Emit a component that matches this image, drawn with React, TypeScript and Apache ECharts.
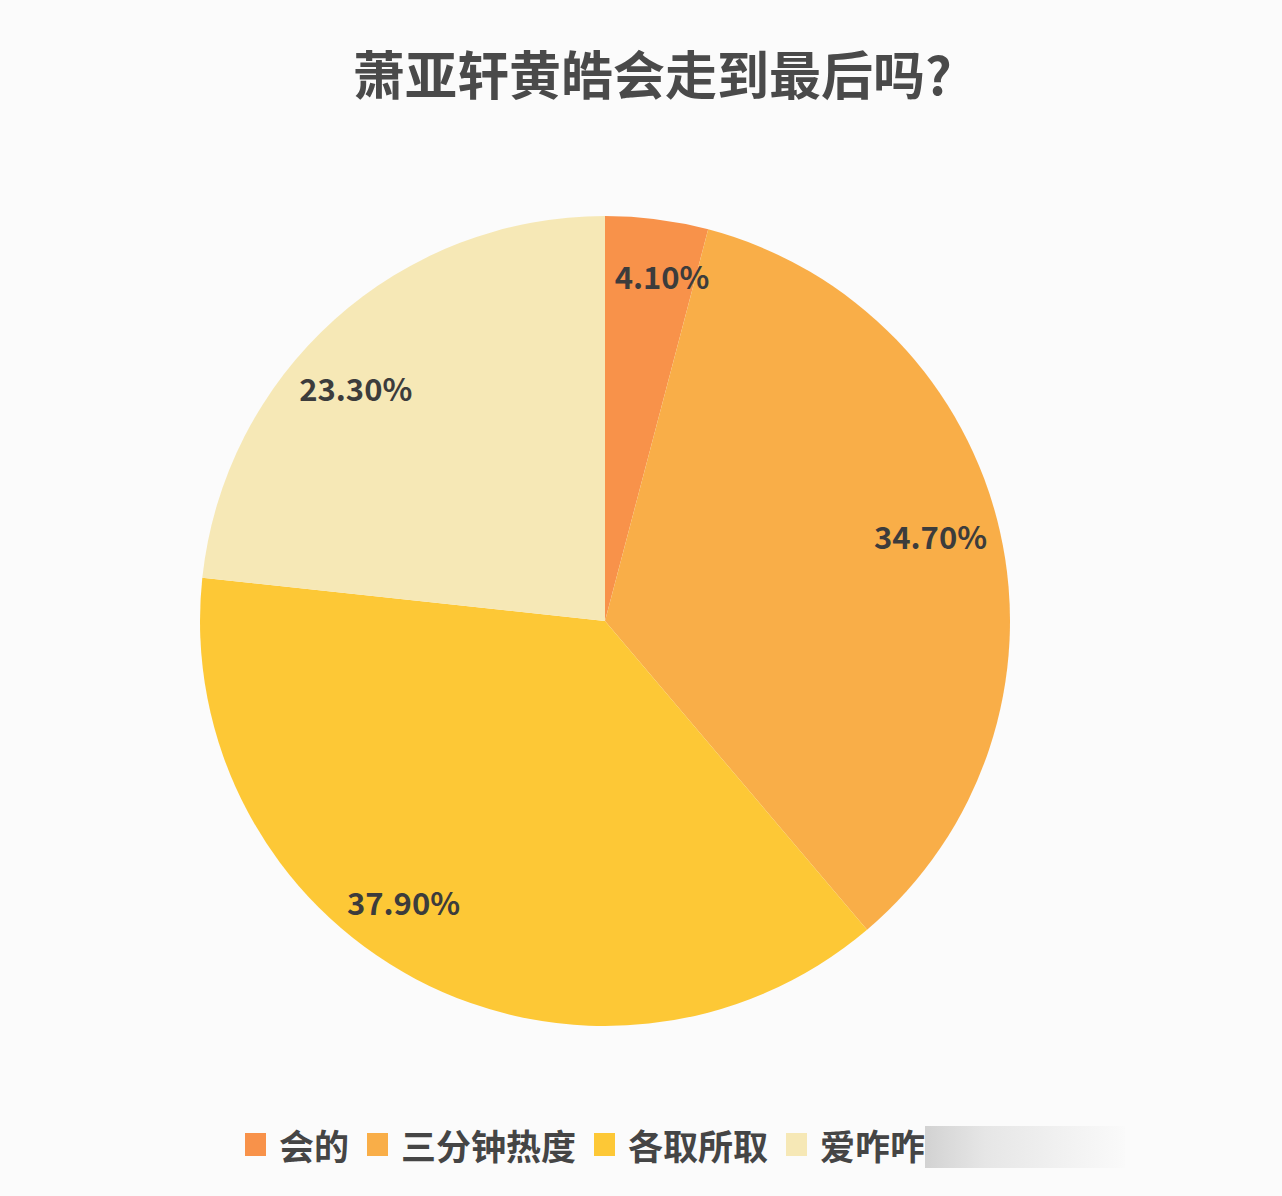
import React, { useEffect, useRef } from "react";
import * as echarts from "echarts";

const categories = ["会的", "三分钟热度", "各取所取", "爱咋咋地"];
const values = [4.1, 34.7, 37.9, 23.3];
const colors = ["#F8924A", "#F9AE48", "#FDC836", "#F6E8B6"];
const labelOffsets = [[13, -5], [-9, -10], [-41, -23], [-20, 22]];
const titleText = "萧亚轩黄皓会走到最后吗?";

export default function App() {
  const ref = useRef<HTMLDivElement>(null);
  useEffect(() => {
    if (!ref.current) return;
    const chart = echarts.init(ref.current, null, { renderer: "svg" });
    const data = categories.map((name, i) => ({
      name,
      value: values[i],
      itemStyle: { color: colors[i] },
    }));
    chart.setOption({
      animation: false,
      backgroundColor: "#FBFBFB",
      title: {
        text: titleText,
        left: 348,
        top: 41,
        textStyle: {
          fontFamily: "Noto Sans CJK SC",
          fontWeight: "bold",
          fontSize: 52,
          color: "#4A4A4A",
        },
      },
      legend: {
        bottom: 29,
        left: 240,
        itemWidth: 21,
        itemHeight: 23,
        itemGap: 18,
        icon: "rect",
        selectedMode: false,
        textStyle: {
          fontFamily: "Noto Sans CJK SC",
          fontWeight: "bold",
          fontSize: 35,
          color: "#454545",
          padding: [0, 0, 0, 8],
        },
        data: categories,
      },
      graphic: [
        {
          type: "rect",
          left: 925,
          top: 1126,
          shape: { width: 200, height: 42 },
          style: {
            fill: new echarts.graphic.LinearGradient(0, 0, 1, 0, [
              { offset: 0, color: "#D2D2D2" },
              { offset: 0.3, color: "#E6E6E6" },
              { offset: 1, color: "#FAFAFA" },
            ]),
          },
          z: 100,
        },
      ],
      series: [
        {
          type: "pie",
          center: [605, 621],
          radius: [0, 405],
          startAngle: 90,
          clockwise: true,
          label: { show: false },
          labelLine: { show: false },
          emphasis: { disabled: true },
          data,
        },
        {
          type: "pie",
          center: [605, 621],
          radius: [275, 405],
          startAngle: 90,
          clockwise: true,
          silent: true,
          itemStyle: { color: "transparent" },
          label: {
            show: true,
            position: "inside",
            formatter: (p: any) => p.value.toFixed(2) + "%",
            fontFamily: "Noto Sans CJK SC",
            fontWeight: "bold",
            fontSize: 31,
            color: "#3C3C3C",
          },
          labelLine: { show: false },
          emphasis: { disabled: true },
          data: categories.map((name, i) => ({
            name,
            value: values[i],
            label: { offset: labelOffsets[i] },
          })),
        },
      ],
    });
    return () => chart.dispose();
  }, []);
  return (
    <div
      ref={ref}
      style={{ position: "fixed", left: 0, top: 0, width: 1282, height: 1196 }}
    />
  );
}
